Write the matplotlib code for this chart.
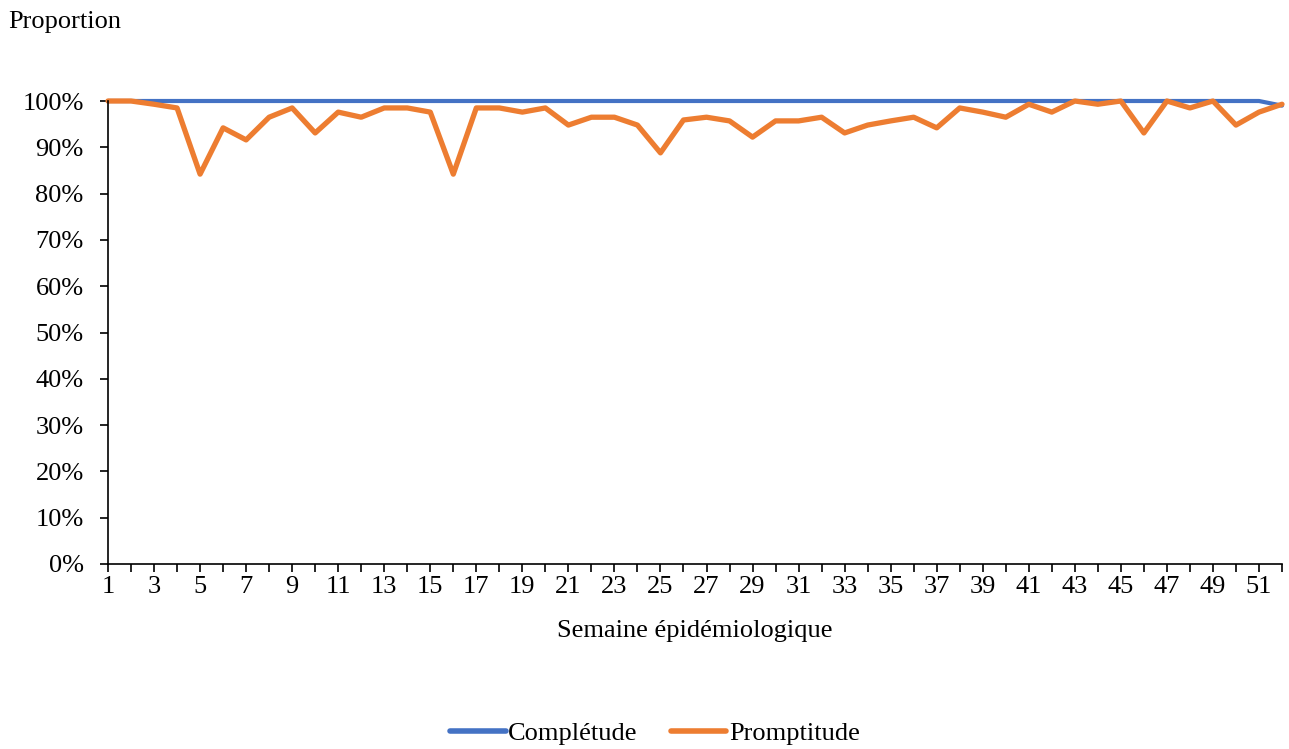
import numpy as np
import matplotlib.pyplot as plt

plt.rcParams['font.family'] = ['Liberation Serif', 'DejaVu Serif']

weeks = np.arange(1, 53)

completude = [100] * 51 + [99.0]

promptitude = [100, 100, 99.3, 98.5, 84.2, 94.2, 91.6, 96.5, 98.5, 93.1,
               97.6, 96.5, 98.5, 98.5, 97.6, 84.2, 98.5, 98.5, 97.6, 98.5,
               94.8, 96.5, 96.5, 94.8, 88.8, 95.9, 96.5, 95.7, 92.2, 95.7,
               95.7, 96.5, 93.1, 94.8, 95.7, 96.5, 94.2, 98.5, 97.6, 96.5,
               99.3, 97.6, 100, 99.3, 100, 93.1, 100, 98.5, 100, 94.8,
               97.6, 99.3]

fig = plt.figure(figsize=(12.89, 7.49), dpi=100)
ax = fig.add_axes([108 / 1289, 1 - 564 / 749, (1282 - 108) / 1289, (564 - 101) / 749])

ax.plot(weeks, completude, color="#4472C4", linewidth=3, label="Complétude",
        solid_capstyle="round", clip_on=False)
ax.plot(weeks, promptitude, color="#ED7D31", linewidth=3.8, label="Promptitude",
        solid_capstyle="round", clip_on=False)

ax.set_xlim(1, 52)
ax.set_ylim(0, 100)
ax.set_yticks(np.arange(0, 101, 10))
ax.set_yticklabels([f"{v}%" for v in range(0, 101, 10)])
ax.set_xticks(weeks)
ax.set_xticklabels([str(w) if w % 2 == 1 else "" for w in weeks])

for s in ["top", "right"]:
    ax.spines[s].set_visible(False)
for s in ["left", "bottom"]:
    ax.spines[s].set_linewidth(1.2)
ax.tick_params(axis="both", labelsize=19, direction="out", length=5.5, width=1.2)
ax.tick_params(axis="x", pad=3)
ax.tick_params(axis="y", pad=12)

ax.set_xlabel("Semaine épidémiologique", fontsize=19, labelpad=16)
fig.text(8 / 1289, 1 - 22 / 749, "Proportion", fontsize=19, va="center", ha="left")

leg = fig.legend(loc="center", bbox_to_anchor=(655 / 1289, 1 - 733 / 749), ncol=2, frameon=False,
                 fontsize=19, handlelength=2.1, handletextpad=0.1, columnspacing=1.25)
for line in leg.get_lines():
    line.set_linewidth(4)

fig.savefig("out.png", dpi=100)
